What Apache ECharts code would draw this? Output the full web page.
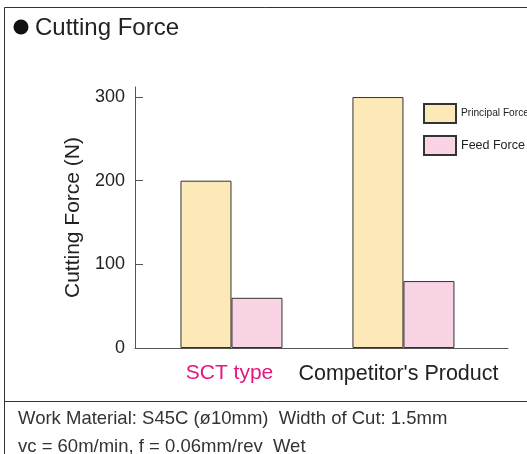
<!DOCTYPE html>
<html>
<head>
<meta charset="utf-8">
<script src="https://cdn.jsdelivr.net/npm/echarts@6/dist/echarts.min.js"></script>
<style>
  html, body { margin: 0; padding: 0; background: #fff; }
  #chart { width: 527px; height: 454px; }
</style>
</head>
<body>
<div id="chart"></div>
<script>
// data
var categories = ['SCT type', "Competitor's Product"];
var seriesNames = ['Principal Force', 'Feed Force'];
var principalForce = [200, 300];
var feedForce = [60, 80];
var yTicks = [0, 100, 200, 300];

var chart = echarts.init(document.getElementById('chart'));
var font = 'Liberation Sans, Arial, Helvetica, sans-serif';

function toPoints(vals) {
    return vals.map(function (v, i) { return [i, v]; });
}

var option = {
    backgroundColor: '#fff',
    animation: false,
    textStyle: { fontFamily: font },
    title: [
        {
            text: 'Cutting Force',
            left: 35, top: 16, padding: 0,
            textStyle: { fontFamily: font, fontSize: 24, fontWeight: 'normal', color: '#222' }
        },
        {
            text: 'Work Material: S45C (ø10mm)  Width of Cut: 1.5mm',
            left: 18, top: 409, padding: 0,
            textStyle: { fontFamily: font, fontSize: 18.5, fontWeight: 'normal', color: '#333' }
        },
        {
            text: 'vc = 60m/min, f = 0.06mm/rev  Wet',
            left: 18, top: 437, padding: 0,
            textStyle: { fontFamily: font, fontSize: 18.5, fontWeight: 'normal', color: '#333' }
        }
    ],
    graphic: [
        { type: 'line', shape: { x1: 4.5, y1: 7.5, x2: 527, y2: 7.5 }, style: { stroke: '#333', lineWidth: 1 } },
        { type: 'line', shape: { x1: 4.5, y1: 7.5, x2: 4.5, y2: 454 }, style: { stroke: '#333', lineWidth: 1 } },
        { type: 'line', shape: { x1: 4.5, y1: 401.5, x2: 527, y2: 401.5 }, style: { stroke: '#333', lineWidth: 1 } },
        { type: 'circle', shape: { cx: 21, cy: 27, r: 7.5 }, style: { fill: '#111' } }
    ],
    legend: {
        data: seriesNames,
        orient: 'vertical',
        left: 423, top: 103, padding: 0,
        itemWidth: 32, itemHeight: 19, itemGap: 11,
        icon: 'rect',
        formatter: function (name) {
            return name === 'Principal Force' ? '{n|' + name + '}' : '{w|' + name + '}';
        },
        textStyle: {
            color: '#222',
            rich: {
                n: { fontFamily: font, fontSize: 10.2, color: '#222' },
                w: { fontFamily: font, fontSize: 12.5, color: '#222' }
            }
        }
    },
    grid: { left: 135, right: 19, top: 87, bottom: 106 },
    xAxis: {
        type: 'value',
        min: -0.561,
        max: 1.608,
        splitLine: { show: false },
        axisTick: { show: false },
        axisLine: { show: true, onZero: false, lineStyle: { color: '#555', width: 1 } },
        axisLabel: {
            customValues: [0, 1],
            margin: 15,
            formatter: function (v) {
                var i = Math.round(v);
                return i === 0 ? '{p|' + categories[i] + '}' : '{d|' + categories[i] + '}';
            },
            rich: {
                p: { color: '#e4157f', fontSize: 21, fontFamily: font, padding: [0, 4, 0, 0] },
                d: { color: '#222', fontSize: 21.5, fontFamily: font, padding: [0, 10, 0, 0] }
            }
        }
    },
    yAxis: {
        type: 'value',
        min: 0,
        max: 312,
        name: 'Cutting Force (N)',
        nameLocation: 'middle',
        nameGap: 50,
        nameTextStyle: { fontFamily: font, fontSize: 21, color: '#222' },
        splitLine: { show: false },
        axisLine: { show: true, onZero: false, lineStyle: { color: '#555', width: 1 } },
        axisTick: { show: true, inside: true, length: 8, customValues: yTicks, lineStyle: { color: '#555' } },
        axisLabel: { customValues: yTicks, margin: 10, fontSize: 18, color: '#222', fontFamily: font }
    },
    series: [
        {
            name: seriesNames[0],
            type: 'bar',
            data: toPoints(principalForce),
            barWidth: 51,
            barGap: '0%',
            itemStyle: { color: '#fde9b8', borderColor: '#333', borderWidth: 1 }
        },
        {
            name: seriesNames[1],
            type: 'bar',
            data: toPoints(feedForce),
            barWidth: 51,
            barGap: '0%',
            itemStyle: { color: '#f8d4e4', borderColor: '#333', borderWidth: 1 }
        }
    ]
};

chart.setOption(option);
</script>
</body>
</html>
